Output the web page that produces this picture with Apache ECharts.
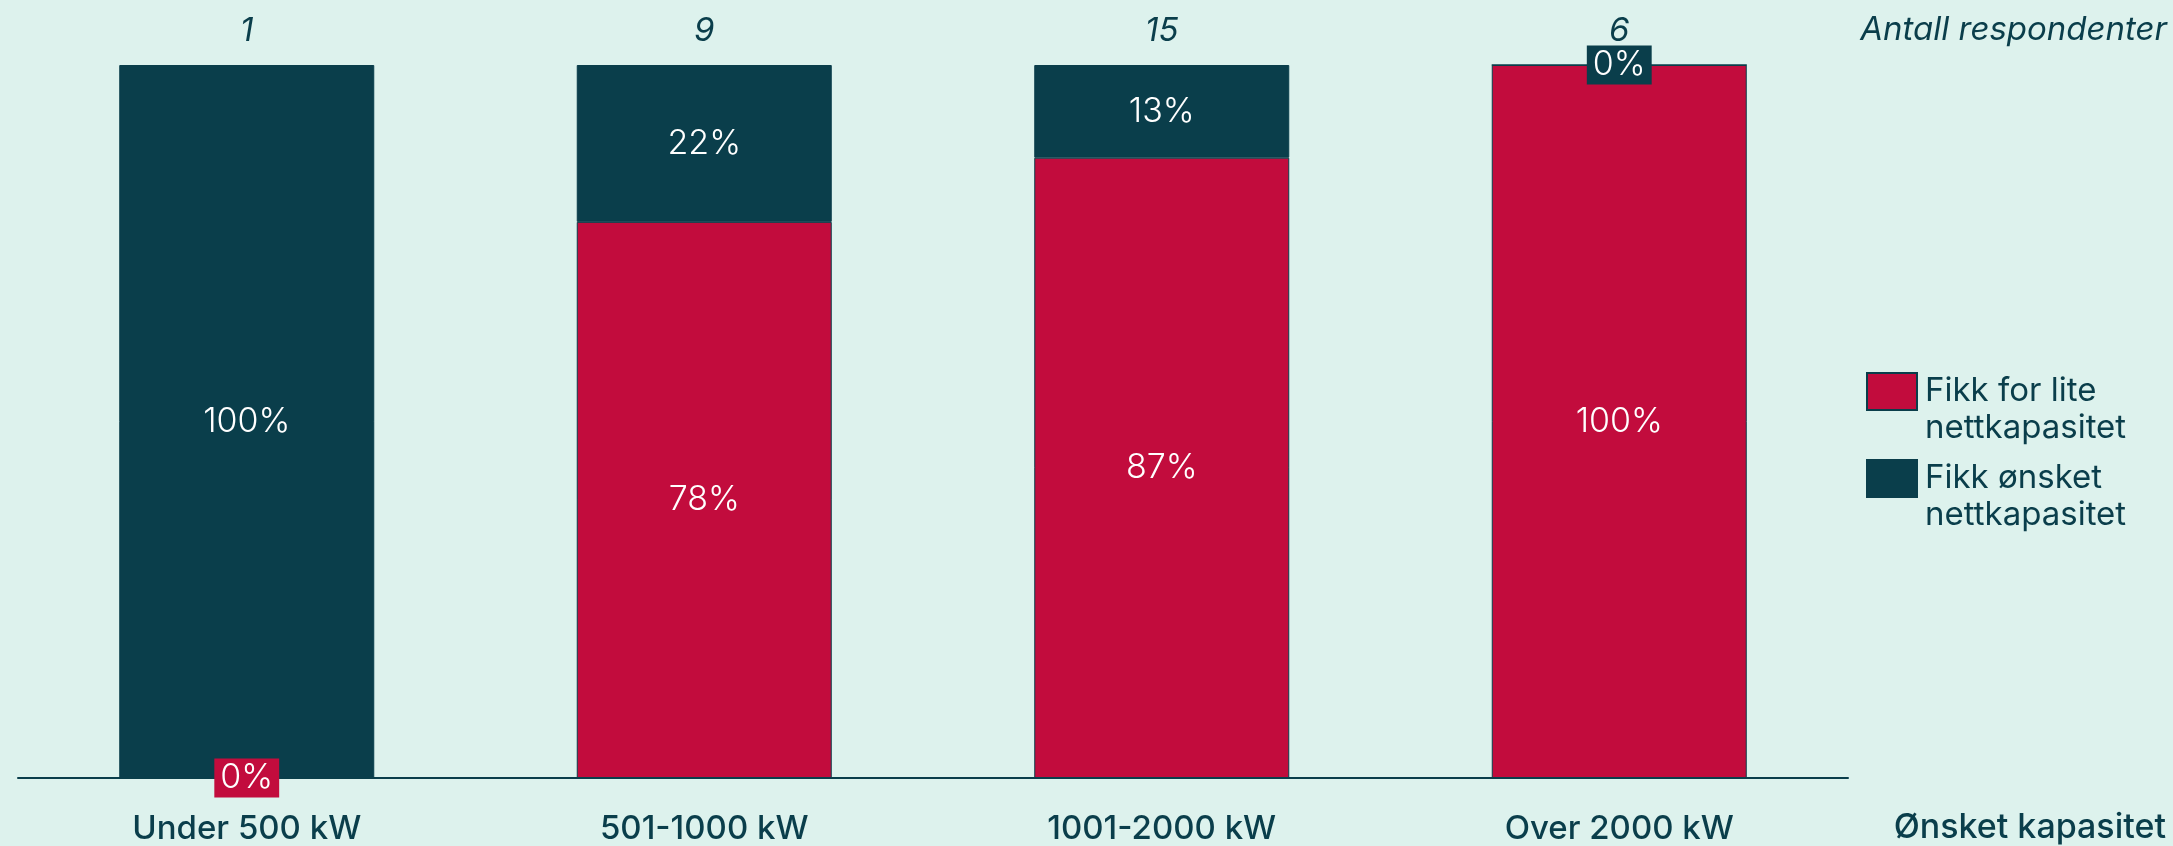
<!DOCTYPE html>
<html lang="no">
<head>
<meta charset="utf-8">
<title>Ønsket kapasitet</title>
<script src="https://cdn.jsdelivr.net/npm/echarts@6/dist/echarts.min.js"></script>
<style>
  html, body { margin: 0; padding: 0; background: #ddf2ed; }
  #chart { width: 2173px; height: 846px; }
</style>
</head>
<body>
<div id="chart"></div>
<script>
// Kapasitetsklasser og svar
const categories = ['Under 500 kW', '501-1000 kW', '1001-2000 kW', 'Over 2000 kW'];
const respondents = [1, 9, 15, 6];
const tooLittle = [0, 78, 87, 100];   // Fikk for lite nettkapasitet (%)
const gotWanted = [100, 22, 13, 0];   // Fikk ønsket nettkapasitet (%)

const RED = '#c20c3d';
const TEAL = '#0a3e4b';
const BG = '#ddf2ed';
const FONT = 'Inter, "Noto Sans", sans-serif';

// Zero-height segments get a filled tag in the series colour
function withTags(values, color) {
  return values.map(v => v === 0
    ? { value: v, label: { backgroundColor: color, padding: [3, 6, 2, 6] } }
    : v);
}

const chart = echarts.init(document.getElementById('chart'), null, { renderer: 'canvas' });

chart.setOption({
  backgroundColor: BG,
  animation: false,
  textStyle: { fontFamily: FONT },
  grid: { left: 18, right: 325, top: 65, bottom: 67, containLabel: false },
  legend: {
    orient: 'vertical',
    left: 1866,
    top: 336,
    padding: 0,
    itemWidth: 50,
    itemHeight: 37,
    itemGap: -24,
    selectedMode: false,
    icon: 'rect',
    // leading blank line puts the first text line level with the swatch
    formatter: name => '\n' + name,
    textStyle: {
      fontFamily: FONT,
      fontSize: 33,
      color: TEAL,
      lineHeight: 37,
      padding: [0, 0, 0, 3]
    },
    data: ['Fikk for lite\nnettkapasitet', 'Fikk ønsket\nnettkapasitet']
  },
  xAxis: [
    {
      type: 'category',
      data: categories,
      position: 'bottom',
      axisLine: { lineStyle: { color: TEAL, width: 2 } },
      axisTick: { show: false },
      axisLabel: {
        color: TEAL, fontFamily: FONT, fontSize: 33, fontWeight: 500, margin: 35
      }
    },
    {
      type: 'category',
      data: respondents.map(String),
      position: 'top',
      axisLine: { show: false },
      axisTick: { show: false },
      axisLabel: {
        color: TEAL, fontFamily: FONT, fontSize: 33, fontStyle: 'italic', fontWeight: 400, margin: 17
      }
    }
  ],
  yAxis: {
    type: 'value',
    min: 0,
    max: 100,
    show: false,
    splitLine: { show: false }
  },
  series: [
    {
      name: 'Fikk for lite\nnettkapasitet',
      type: 'bar',
      stack: 'svar',
      barWidth: 255,
      data: withTags(tooLittle, RED),
      itemStyle: { color: RED, borderColor: TEAL, borderWidth: 1 },
      label: {
        show: true, position: 'inside', formatter: '{c}%',
        color: '#ffffff', fontFamily: FONT, fontSize: 34, fontWeight: 300
      }
    },
    {
      name: 'Fikk ønsket\nnettkapasitet',
      type: 'bar',
      stack: 'svar',
      barWidth: 255,
      data: withTags(gotWanted, TEAL),
      itemStyle: { color: TEAL, borderColor: TEAL, borderWidth: 1 },
      label: {
        show: true, position: 'inside', formatter: '{c}%',
        color: '#ffffff', fontFamily: FONT, fontSize: 34, fontWeight: 300
      }
    }
  ],
  graphic: [
    {
      type: 'text',
      right: 6,
      top: 14,
      style: {
        text: 'Antall respondenter',
        fill: TEAL, font: 'italic 400 33px ' + FONT
      }
    },
    {
      type: 'text',
      right: 7,
      top: 811,
      style: {
        text: 'Ønsket kapasitet',
        fill: TEAL, font: '500 34px ' + FONT
      }
    }
  ]
});
</script>
</body>
</html>
